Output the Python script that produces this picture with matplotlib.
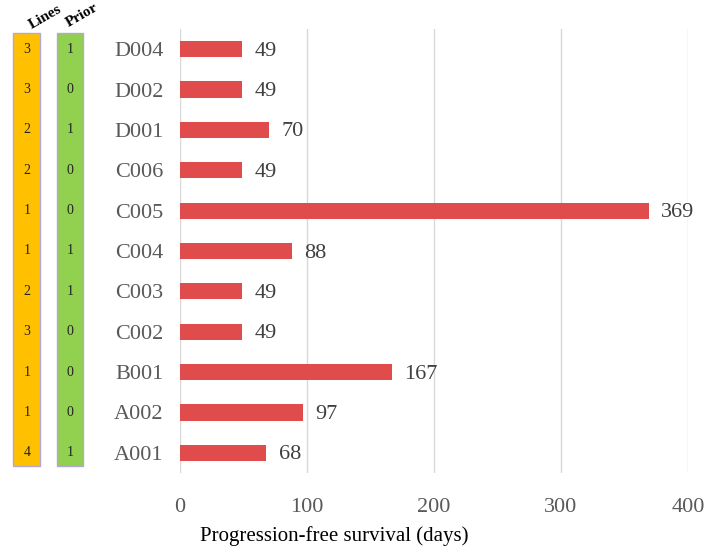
import matplotlib
matplotlib.use("Agg")
import matplotlib.pyplot as plt
from matplotlib.patches import Rectangle

patients = ["A001", "A002", "B001", "C002", "C003", "C004", "C005", "C006", "D001", "D002", "D004"]
pfs_days = [68, 97, 167, 49, 49, 88, 369, 49, 70, 49, 49]
lines = [4, 1, 1, 3, 2, 1, 1, 2, 2, 3, 3]
prior = [1, 0, 0, 0, 1, 1, 0, 0, 1, 0, 1]
xticks = [0, 100, 200, 300, 400]

plt.rcParams['font.family'] = ['Liberation Serif', 'DejaVu Serif']

W, H = 709, 552
fig = plt.figure(figsize=(W / 100, H / 100), dpi=100)

left = 180 / W
right = 688 / W
bottom = 1 - 473 / H
top = 1 - 29 / H
ax = fig.add_axes([left, bottom, right - left, top - bottom])

y = list(range(len(patients)))
ax.barh(y, pfs_days, height=0.4, color="#E04B4B", zorder=3)
for yi, v in zip(y, pfs_days):
    ax.annotate(str(v), (v, yi), xytext=(9, -1.5), textcoords="offset points",
                va="center", ha="left", fontsize=16, color="#404040")

ax.set_xlim(0, 400)
ax.set_ylim(-0.5, len(patients) - 0.5)
ax.set_xticks(xticks)
ax.set_xticklabels([str(t) for t in xticks], fontsize=16, color="#595959")
ax.set_yticks(y)
ax.set_yticklabels(patients, fontsize=16, color="#595959")
ax.tick_params(axis="both", length=0)
ax.tick_params(axis="y", pad=12)
ax.tick_params(axis="x", pad=18)
ax.grid(axis="x", color="#D9D9D9", linewidth=1, zorder=0)
for s in ax.spines.values():
    s.set_visible(False)
ax.set_xlabel("Progression-free survival (days)", fontsize=15, color="black", va="center")
ax.xaxis.set_label_coords((334 - 180) / 508, (473 - 536) / 444)

# side columns
sax = fig.add_axes([0, bottom, left, top - bottom])
sax.set_xlim(0, 180)
sax.set_ylim(-0.5, len(patients) - 0.5)
sax.axis("off")
sax.add_patch(Rectangle((13, -0.32), 27, 10.72, facecolor="#FFC000", edgecolor="#B4A7D6", lw=1, clip_on=False))
sax.add_patch(Rectangle((57, -0.32), 26, 10.72, facecolor="#92D050", edgecolor="#B4A7D6", lw=1, clip_on=False))
for yi, l, p in zip(y, lines, prior):
    sax.text(27, yi, str(l), ha="center", va="center", fontsize=10, color="#222222")
    sax.text(70, yi, str(p), ha="center", va="center", fontsize=10, color="#222222")

fig.text(45 / W, 1 - 17 / H, "Lines", rotation=30, ha="center", va="center", fontsize=11, fontweight="bold")
fig.text(82 / W, 1 - 15 / H, "Prior", rotation=30, ha="center", va="center", fontsize=11, fontweight="bold")

fig.savefig("out.png", dpi=100)
